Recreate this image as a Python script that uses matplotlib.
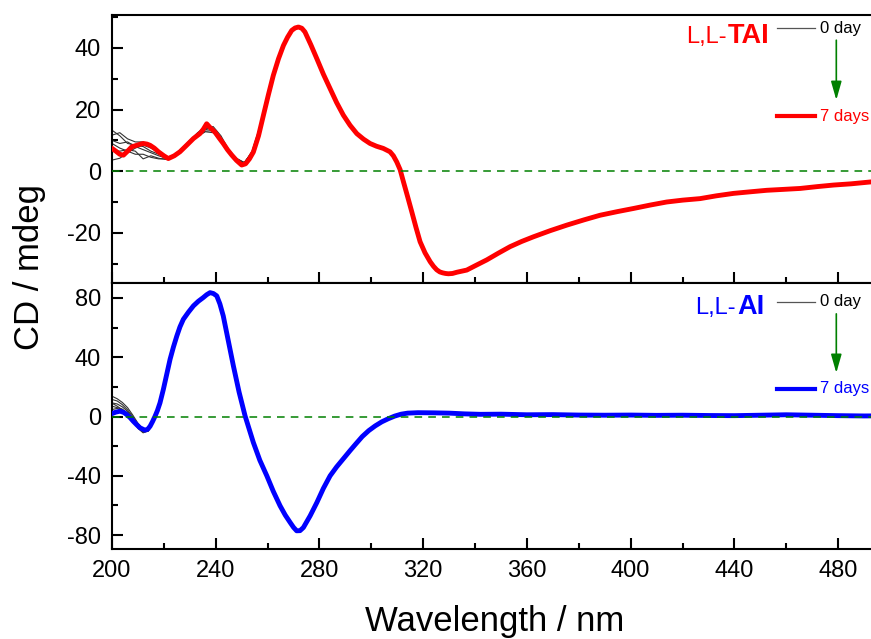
import numpy as np
import matplotlib
matplotlib.use("Agg")
import matplotlib.pyplot as plt

plt.rcParams['font.family'] = ['Liberation Sans', 'DejaVu Sans']
plt.rcParams['axes.unicode_minus'] = False

# ---- L,L-TAI, 7 days (nm, mdeg) ----
wl_tai = [200, 201.5, 203, 204.4, 206, 207.6, 209.5, 211, 212.1, 213.5, 214.7, 216.3,
          217.9, 220, 221.7, 224, 226.2, 229, 231.4, 233.9, 235.2, 236.5, 238, 239.7,
          241.3, 242.9, 244.5, 246.2, 248, 250, 251.5, 253, 254.5, 256.5, 258.4, 260.3,
          262.2, 264.2, 266.1, 267.7, 269.3, 270.6, 271.9, 273.2, 274.4, 276.7, 279,
          281.5, 284.1, 286.6, 289.2, 291.8, 294.4, 297, 299.5, 302, 304.6, 307.2, 308.5,
          309.8, 311.1, 312.4, 314, 315.6, 317.2, 318.8, 320.7, 322.7, 324, 325.2, 326.4,
          327.5, 328.6, 329.7, 331.3, 333, 336.8, 340.5, 344.5, 349, 353.5, 358, 362.5,
          369, 375.4, 382, 388.2, 395, 401.1, 407.5, 413.9, 420, 426.8, 433, 439.7, 446,
          452.5, 459, 465.4, 472, 478.2, 485, 492.4, 500]
cd_tai = [7.4, 6.5, 5.5, 5.2, 6.5, 7.9, 8.4, 8.8, 9.0, 8.8, 8.4, 7.5,
          6.3, 5.0, 4.1, 5.0, 6.3, 8.6, 10.6, 12.2, 13.6, 15.4, 14.0, 12.7,
          10.8, 9.0, 7.0, 5.2, 3.5, 2.0, 2.4, 4.0, 6.2, 11.5, 18.2, 24.8,
          31.1, 36.5, 40.8, 43.5, 45.7, 46.5, 46.8, 46.4, 45.2, 41.0, 36.5,
          31.5, 26.8, 22.3, 18.2, 14.9, 12.2, 10.4, 9.0, 8.1, 7.4, 6.3, 5.0,
          3.0, 0.5, -3.5, -8.3, -13.2, -18.2, -22.9, -26.5, -29.4, -30.9, -32.0, -32.7,
          -33.0, -33.2, -33.3, -33.2, -32.8, -32.1, -30.5, -28.8, -26.6, -24.5, -22.8, -21.3,
          -19.3, -17.5, -15.8, -14.3, -13.1, -12.1, -11.0, -10.0, -9.4, -8.9, -8.0, -7.2, -6.7,
          -6.2, -5.9, -5.6, -5.0, -4.5, -4.1, -3.5, -2.8]

# earlier days of L,L-TAI differ only below ~258 nm
wl_tai_early = [200, 203, 206, 209, 212, 215, 218, 221, 224, 227, 230, 233, 236, 239,
                242, 245, 248, 251, 254, 257]
tai_days = [
    [13.3, 11.5, 9.0, 8.5, 8.0, 6.5, 5.5, 4.5, 5.2, 7.2, 9.8, 12.0, 13.5, 14.0, 10.5, 6.5, 3.8, 2.5, 5.8, 13.8],
    [11.7, 12.5, 10.5, 9.5, 9.5, 8.0, 6.0, 4.6, 5.0, 7.0, 9.5, 11.8, 13.8, 14.5, 11.5, 7.0, 4.2, 2.8, 6.0, 13.3],
    [10.0, 9.0, 9.5, 8.0, 7.0, 6.0, 5.0, 4.2, 5.3, 7.5, 10.0, 12.3, 14.2, 13.5, 10.0, 6.2, 3.6, 2.3, 5.5, 13.6],
    [9.0, 7.5, 6.5, 5.5, 5.5, 4.5, 4.0, 4.0, 5.0, 7.3, 9.6, 11.5, 13.0, 13.2, 10.8, 6.8, 4.0, 2.8, 6.2, 14.2],
    [6.8, 6.5, 7.0, 6.5, 4.0, 5.0, 4.2, 3.8, 4.8, 7.0, 9.3, 11.3, 12.8, 12.5, 9.8, 6.0, 3.5, 2.6, 6.5, 14.5],
    [3.6, 4.2, 6.0, 7.5, 8.5, 7.5, 6.0, 4.3, 5.1, 7.1, 9.9, 12.5, 14.5, 13.8, 10.2, 6.3, 3.9, 2.7, 5.9, 14.0],
]

# ---- L,L-AI, 7 days ----
wl_ai = [200, 201.5, 203.1, 204.5, 205.7, 207, 208.2, 209.5, 210.8, 212.7, 213.8, 214.7,
         215.6, 216.6, 217.5, 218.5, 219.8, 221.1, 222.4, 223.7, 225, 226.2, 227.5,
         229.5, 231.4, 233.3, 235.2, 236.5, 237.8, 239.1, 240.4, 241.6, 242.9, 244.8,
         246.8, 249, 251.3, 252.9, 254.5, 257, 259.7, 262.2, 264.8, 266.8, 268.7, 270,
         271.2, 272.5, 273.8, 276.4, 279, 281.5, 284.1, 286.6, 289.2, 291.8, 294, 296.5,
         299, 301.5, 304, 306.5, 309, 311.5, 314, 318, 324, 330, 336, 342, 350, 360,
         370, 380, 390, 400, 410, 420, 430, 440, 450, 460, 470, 480, 490, 500]
cd_ai = [2.0, 3.0, 3.6, 2.8, 1.3, -0.8, -3.2, -5.5, -7.6, -9.2, -8.5, -6.5,
         -3.5, 0.2, 4.0, 9.2, 18.3, 28.5, 38.7, 47.0, 54.4, 60.5, 65.6,
         70.5, 74.7, 77.8, 80.3, 82.2, 83.6, 83.0, 81.4, 76.0, 67.9, 51.5,
         34.2, 16.5, 0.5, -8.5, -17.5, -29.5, -40.0, -50.5, -60.2, -66.5, -71.5, -74.8,
         -77.1, -77.0, -74.9, -67.0, -58.0, -48.5, -40.0, -34.0, -28.5, -23.0, -18.5, -13.5,
         -9.5, -6.3, -3.6, -1.5, 0.3, 1.6, 2.3, 2.6, 2.5, 2.3, 1.8, 1.5, 1.6, 1.2,
         1.3, 1.0, 0.9, 1.0, 0.8, 0.9, 0.7, 0.6, 0.9, 1.2, 0.9, 0.6, 0.4, 0.5]

wl_ai_early = [200, 202, 204, 206, 208, 210, 212, 214]
ai_days = [
    [13.7, 12.0, 9.5, 6.0, 1.0, -4.5, -8.5, -8.0],
    [11.5, 10.5, 8.0, 4.5, 0.0, -5.5, -9.5, -9.0],
    [9.2, 8.5, 6.5, 3.5, -1.0, -6.5, -10.0, -9.5],
    [7.0, 6.0, 5.0, 2.0, -2.0, -7.5, -10.5, -10.0],
    [4.7, 5.5, 4.0, 1.0, -3.0, -8.0, -11.0, -9.5],
    [9.0, 7.0, 4.5, 2.5, -1.5, -6.0, -9.5, -8.5],
]


def draw_panel(ax, wl, cd, wl_early, days, color, name, ylim, ymajor, yminor, pos):
    wl = np.asarray(wl)
    cd = np.asarray(cd)
    tail = wl > wl_early[-1] + 0.5
    for d in days:
        ax.plot(np.concatenate([wl_early, wl[tail]]), np.concatenate([d, cd[tail]]),
                color='#333333', lw=0.8, zorder=2)
    ax.plot(wl, cd, color=color, lw=3.5, zorder=3, solid_joinstyle='round')
    ax.axhline(0, color='green', lw=1.1, ls=(0, (5, 4)), zorder=4)

    ax.set_xlim(200, 500)
    ax.set_ylim(*ylim)
    ax.set_xticks(np.arange(200, 501, 40))
    ax.set_xticks(np.arange(200, 501, 20), minor=True)
    ax.set_yticks(ymajor)
    ax.set_yticks(yminor, minor=True)
    ax.tick_params(which='both', direction='in', width=1.5, top=False, right=False,
                   labelsize=17, pad=8)
    ax.tick_params(which='major', length=8)
    ax.tick_params(which='minor', length=4)
    for s in ax.spines.values():
        s.set_linewidth(1.5)

    # labels / legend in the upper right corner
    split_x, base_y, y0, y7 = pos
    ax.text(split_x, base_y, 'L,L-', color=color, fontsize=17, ha='right',
            va='baseline', transform=ax.transAxes)
    ax.text(split_x + 0.002, base_y, name, color=color, fontsize=19.5, fontweight='bold',
            ha='left', va='baseline', transform=ax.transAxes)
    ax.plot([0.855, 0.904], [y0, y0], color='#555555', lw=0.9, transform=ax.transAxes)
    ax.text(0.910, y0, '0 day', fontsize=12, va='center', transform=ax.transAxes)
    ax.plot([0.855, 0.904], [y7, y7], color=color, lw=3, transform=ax.transAxes)
    ax.text(0.910, y7, '7 days', color=color, fontsize=12, va='center',
            transform=ax.transAxes)
    ax.annotate('', xy=(0.931, y7 + 0.06), xytext=(0.931, y0 - 0.045),
                xycoords='axes fraction',
                arrowprops=dict(arrowstyle='-|>,head_length=0.7,head_width=0.2',
                                mutation_scale=16, color='green', lw=1.2,
                                shrinkA=0, shrinkB=0))


fig = plt.figure(figsize=(8.71, 6.39), dpi=100)
ax1 = fig.add_axes([0.1286, 0.5571, 0.8932, 0.4194])
ax2 = fig.add_axes([0.1286, 0.1408, 0.8932, 0.4163])

draw_panel(ax1, wl_tai, cd_tai, wl_tai_early, tai_days, 'red', 'TAI',
           (-36.3, 50.7), [-20, 0, 20, 40], np.arange(-30, 51, 10),
           (0.790, 0.896, 0.951, 0.623))
draw_panel(ax2, wl_ai, cd_ai, wl_ai_early, ai_days, 'blue', 'AI',
           (-89.4, 90.1), [-80, -40, 0, 40, 80], np.arange(-80, 81, 20),
           (0.802, 0.883, 0.929, 0.602))

ax1.tick_params(labelbottom=False)

fig.text(30 / 871, 0.582, 'CD / mdeg', rotation=90, ha='center', va='center', fontsize=25)
fig.text(495 / 871, 1 - 631 / 639, 'Wavelength / nm', ha='center', va='baseline', fontsize=25)

fig.savefig('out.png', dpi=100)
